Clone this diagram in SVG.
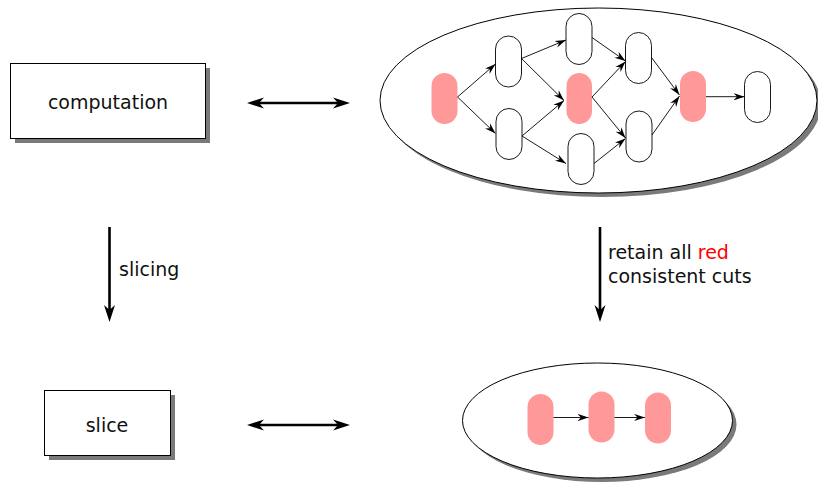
<svg xmlns="http://www.w3.org/2000/svg" width="818" height="486" viewBox="0 0 818 486">
  <style>
    text { font-family: "DejaVu Sans", "Liberation Sans", sans-serif; font-size: 19px; fill: #111; }
    .box { fill: #fff; stroke: #000; stroke-width: 1; }
    .shadow { fill: #7a7a7a; stroke: none; }
    .ev { fill: #fff; stroke: #000; stroke-width: 0.9; }
    .evr { fill: #ff9999; stroke: none; }
    .edge { stroke: #000; stroke-width: 0.9; fill: none; marker-end: url(#tip); }
    .big { stroke: #000; stroke-width: 2.6; fill: none; }
    .red { fill: #ff0000; }
  </style>
  <defs>
    <marker id="tip" viewBox="-11 -4 11 8" refX="0" refY="0" markerWidth="11" markerHeight="8" orient="auto" markerUnits="userSpaceOnUse">
      <path d="M0,0 L-11,-3.6 L-7.5,0 L-11,3.6 Z" fill="#000"/>
    </marker>
    <marker id="bigtip" viewBox="-17 -6 17 12" refX="-9" refY="0" markerWidth="17" markerHeight="12" orient="auto-start-reverse" markerUnits="userSpaceOnUse">
      <path d="M0,0 L-17,-5.5 L-12,0 L-17,5.5 Z" fill="#000"/>
    </marker>
  </defs>

  <!-- computation box -->
  <g id="computation">
    <rect class="shadow" x="15" y="68" width="195" height="75"/>
    <rect class="box" x="10.5" y="63.5" width="195" height="75"/>
    <text x="108" y="109" text-anchor="middle">computation</text>
  </g>

  <!-- slice box -->
  <g id="slice">
    <rect class="shadow" x="49" y="395" width="126" height="65"/>
    <rect class="box" x="44.5" y="390.5" width="126" height="65"/>
    <text x="107" y="432" text-anchor="middle">slice</text>
  </g>

  <!-- full computation: event graph inside an ellipse -->
  <g id="lattice">
    <ellipse class="shadow" cx="602.5" cy="104.5" rx="218.5" ry="92.5"/>
    <ellipse class="box" cx="598.5" cy="100.5" rx="218.5" ry="92.5"/>
    <g id="e-r1"><rect class="evr" x="431.5" y="73" width="26" height="51" rx="13"/></g>
    <g id="e-a"><rect class="ev" x="495.5" y="36" width="26" height="51" rx="13"/></g>
    <g id="e-b"><rect class="ev" x="496" y="108.5" width="26" height="51" rx="13"/></g>
    <g id="e-c"><rect class="ev" x="566" y="13.5" width="26" height="51" rx="13"/></g>
    <g id="e-r2"><rect class="evr" x="566.5" y="73" width="25.5" height="51" rx="12.75"/></g>
    <g id="e-d"><rect class="ev" x="568" y="133.5" width="26" height="51" rx="13"/></g>
    <g id="e-e"><rect class="ev" x="625.5" y="32.5" width="26" height="51" rx="13"/></g>
    <g id="e-f"><rect class="ev" x="626" y="111" width="26" height="51" rx="13"/></g>
    <g id="e-r3"><rect class="evr" x="680" y="71" width="26" height="51" rx="13"/></g>
    <g id="e-g"><rect class="ev" x="744.5" y="71.5" width="26" height="51" rx="13"/></g>
  </g>

  <!-- slice: retained events inside an ellipse -->
  <g id="slice-lattice">
    <ellipse class="shadow" cx="601.5" cy="424.5" rx="135" ry="57.5"/>
    <ellipse class="box" cx="597.5" cy="420.5" rx="135" ry="57.5"/>
    <g id="s-r1"><rect class="evr" x="527.5" y="394" width="26" height="51" rx="13"/></g>
    <g id="s-r2"><rect class="evr" x="588.5" y="391.5" width="26" height="51" rx="13"/></g>
    <g id="s-r3"><rect class="evr" x="645" y="392.5" width="26" height="51" rx="13"/></g>
  </g>

  <!-- connectors -->
  <g id="connectors">
    <line class="edge" x1="457.5" y1="97" x2="495.5" y2="64"/>
    <line class="edge" x1="457.5" y1="97" x2="495.5" y2="133.5"/>
    <line class="edge" x1="521.5" y1="58.5" x2="566" y2="40"/>
    <line class="edge" x1="521.5" y1="58.5" x2="564" y2="100.5"/>
    <line class="edge" x1="522" y1="136" x2="564" y2="100.5"/>
    <line class="edge" x1="522" y1="136" x2="566" y2="163.5"/>
    <line class="edge" x1="592" y1="37.5" x2="625.5" y2="61"/>
    <line class="edge" x1="592" y1="97" x2="625.5" y2="61.5"/>
    <line class="edge" x1="592" y1="97" x2="625.5" y2="138"/>
    <line class="edge" x1="594" y1="163.5" x2="625.5" y2="138.5"/>
    <line class="edge" x1="651.5" y1="57.5" x2="679.5" y2="95"/>
    <line class="edge" x1="652" y1="135" x2="679.5" y2="96"/>
    <line class="edge" x1="706" y1="96.7" x2="744.5" y2="96.7"/>

    <line class="edge" x1="553.5" y1="417.5" x2="588.5" y2="417.5"/>
    <line class="edge" x1="614.5" y1="417.5" x2="645" y2="417.5"/>

    <line class="big" x1="256" y1="103" x2="341" y2="103" marker-start="url(#bigtip)" marker-end="url(#bigtip)"/>
    <line class="big" x1="256" y1="425" x2="341" y2="425" marker-start="url(#bigtip)" marker-end="url(#bigtip)"/>
    <line class="big" x1="109.5" y1="227" x2="109.5" y2="313" marker-end="url(#bigtip)"/>
    <line class="big" x1="600" y1="227" x2="600" y2="313" marker-end="url(#bigtip)"/>
  </g>

  <!-- arrow labels -->
  <text x="119" y="276">slicing</text>
  <text x="608" y="259">retain all <tspan class="red">red</tspan></text>
  <text x="608" y="283">consistent cuts</text>
</svg>
